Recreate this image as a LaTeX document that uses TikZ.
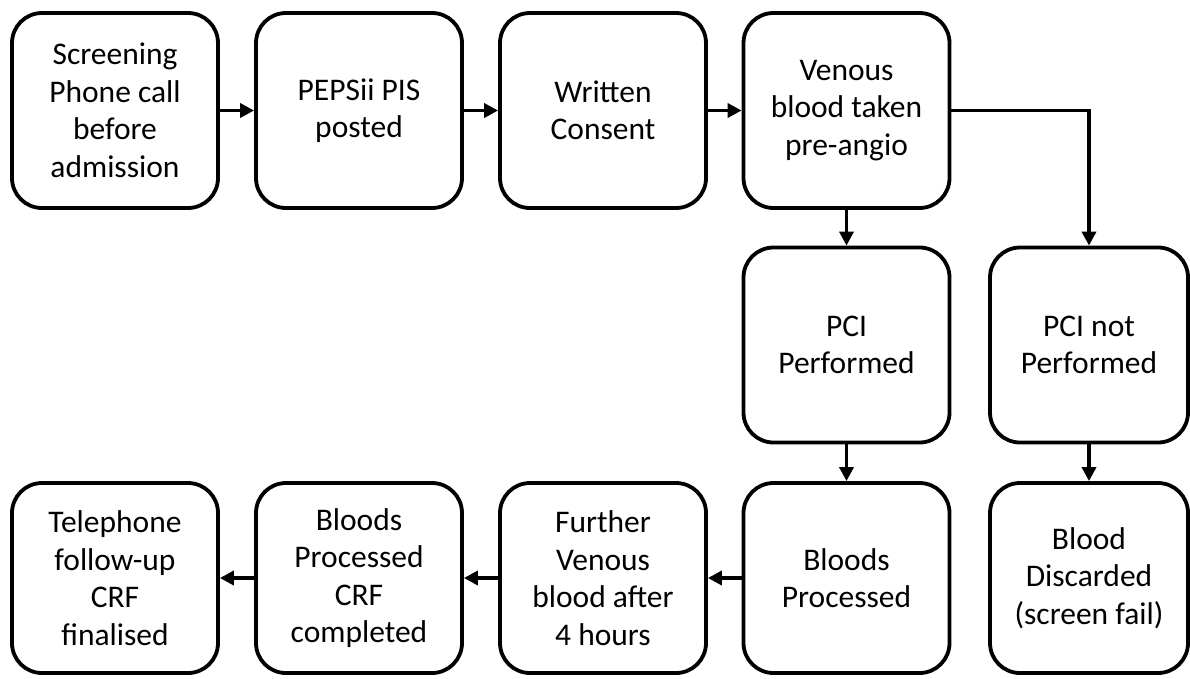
\documentclass[tikz,border=0pt]{standalone}
\usepackage{fontspec}
\setmainfont{Carlito}
\usetikzlibrary{arrows.meta}
\begin{document}
\begin{tikzpicture}[x=1pt,y=-1pt,
  box/.style={draw=black, line width=3.8pt, rounded corners=30pt, fill=white,
    minimum width=206pt, minimum height=195pt, align=center, inner sep=0pt,
    font=\fontsize{31.5}{37.5}\selectfont},
  lowbox/.style={box, minimum height=190pt},
  conn/.style={line width=3.5pt, -{Triangle[length=14pt,width=14pt]}}]
\useasboundingbox (0,0) rectangle (1190,678);
\node[box] (a) at (115,110.5) {Screening\\Phone call\\before\\admission};
\node[box] (b) at (359,110.5) {PEPSii PIS\\posted};
\node[box] (c) at (603,110.5) {Written\\Consent};
\node[box] (d) at (846.5,110.5) {Venous\\blood taken\\pre-angio};
\node[box] (e) at (846.5,345) {PCI\\Performed};
\node[box, minimum width=198pt] (f) at (1089,345) {PCI not\\Performed};
\node[lowbox] (g) at (846.5,578) {Bloods\\Processed};
\node[lowbox, minimum width=198pt] (k) at (1089,578) {Blood\\Discarded\\(screen fail)};
\node[lowbox] (h) at (603,578) {Further\\Venous\\blood after\\4 hours};
\node[lowbox] (i) at (359,578) {Bloods\\Processed\\CRF\\completed};
\node[lowbox] (j) at (115,578) {Telephone\\follow-up\\CRF\\finalised};
\draw[conn] (a) -- (b);
\draw[conn] (b) -- (c);
\draw[conn] (c) -- (d);
\draw[conn] (d) -- (e);
\draw[conn] (d.east) -| (f.north);
\draw[conn] (e) -- (g);
\draw[conn] (f) -- (k);
\draw[conn] (g) -- (h);
\draw[conn] (h) -- (i);
\draw[conn] (i) -- (j);
\end{tikzpicture}
\end{document}
